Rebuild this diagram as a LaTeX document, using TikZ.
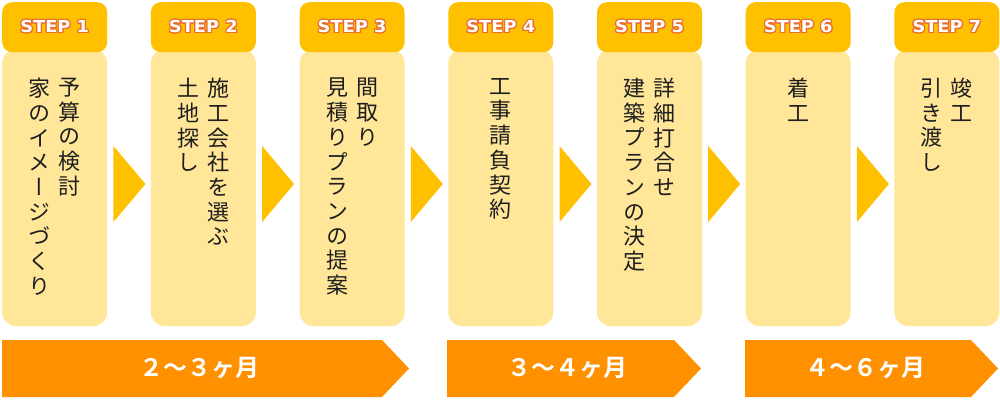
\documentclass[tikz,border=0pt]{standalone}
\usepackage{fontspec}
\usepackage{contour}
\usetikzlibrary{positioning, calc}

\setmainfont{Noto Sans CJK JP}[BoldFont={Noto Sans CJK JP Bold}]
\newfontfamily\tatefont{Noto Sans CJK JP}[RawFeature=+vert]
\newfontfamily\stepfont{DejaVu Sans}[FakeStretch=1.08]

\definecolor{stephead}{HTML}{FFC000}
\definecolor{stepbody}{HTML}{FFE699}
\definecolor{stepedge}{HTML}{EC6B2D}
\definecolor{barorange}{HTML}{FF9000}
\definecolor{textdark}{HTML}{1E1E1E}

\contourlength{1.1pt}

\begin{document}
\begin{tikzpicture}[
    x=1pt, y=-1pt,
    headbox/.style={
        fill=stephead,
        rounded corners=10pt,
        minimum width=105pt,
        minimum height=50pt,
        inner sep=0pt,
        anchor=north west
    },
    bodybox/.style={
        fill=stepbody,
        rounded corners=14pt,
        minimum width=105pt,
        minimum height=277pt,
        anchor=north west
    },
    steplabel/.style={
        font=\stepfont\bfseries\fontsize{16.5pt}{16.5pt}\selectfont,
        text=white
    },
    tatetext/.style={
        font=\tatefont\fontsize{22pt}{24.7pt}\selectfont,
        text=textdark,
        align=center,
        inner sep=0pt,
        anchor=north
    },
    arrowtri/.style={fill=stephead},
    periodbar/.style={fill=barorange},
    barlabel/.style={
        font=\bfseries\fontsize{24pt}{24pt}\selectfont,
        text=white
    }
]

\useasboundingbox (0,0) rectangle (1000,400);

% parameters
\def\pitch{148.7}

% macro: one period bar with its label
\newcommand{\drawbar}[4]{
  \fill[periodbar] (#1,340) -- (#2,340) -- ++(27,28.5) -- ++(-27,28.5) -- (#1,397) -- cycle;
  \pgfmathsetmacro{\xm}{(#1+#2)/2+7}
  \node[barlabel] (#3) at (\xm,368.5) {#4};
}

% step boxes
\foreach \i in {1,...,7}{
  \pgfmathsetmacro{\xl}{2+(\i-1)*\pitch}
  \node[bodybox] (body\i) at (\xl,49) {};
  \node[headbox, steplabel] (head\i) at (\xl,2) {\contour{stepedge}{STEP \i}};
}

% triangles between the steps
\foreach \i in {1,...,6}{
  \fill[arrowtri] ($(body\i.north east)+(6,97)$) -- ++(32,38) -- ++(-32,38) -- cycle;
}

% vertical texts (right column first)
\node[tatetext] (col1a) at ($(body1.north)+(15,29)$) {予\\算\\の\\検\\討};
\node[tatetext] (col1b) at ($(body1.north)+(-15,29)$) {家\\の\\イ\\メ\\ー\\ジ\\づ\\く\\り};
\node[tatetext] (col2a) at ($(body2.north)+(15,29)$) {施\\工\\会\\社\\を\\選\\ぶ};
\node[tatetext] (col2b) at ($(body2.north)+(-15,29)$) {土\\地\\探\\し};
\node[tatetext] (col3a) at ($(body3.north)+(15,29)$) {間\\取\\り};
\node[tatetext] (col3b) at ($(body3.north)+(-15,29)$) {見\\積\\り\\プ\\ラ\\ン\\の\\提\\案};
\node[tatetext] (col4a) at ($(body4.north)+(0,29)$) {工\\事\\請\\負\\契\\約};
\node[tatetext] (col5a) at ($(body5.north)+(15,29)$) {詳\\細\\打\\合\\せ};
\node[tatetext] (col5b) at ($(body5.north)+(-15,29)$) {建\\築\\プ\\ラ\\ン\\の\\決\\定};
\node[tatetext] (col6a) at ($(body6.north)+(0,29)$) {着\\工};
\node[tatetext] (col7a) at ($(body7.north)+(15,29)$) {竣\\工};
\node[tatetext] (col7b) at ($(body7.north)+(-15,29)$) {引\\き\\渡\\し};

% period bars
\drawbar{2}{382}{period1}{２～３ヶ月}
\drawbar{447}{674}{period2}{３～４ヶ月}
\drawbar{745}{971}{period3}{４～６ヶ月}

\end{tikzpicture}
\end{document}
